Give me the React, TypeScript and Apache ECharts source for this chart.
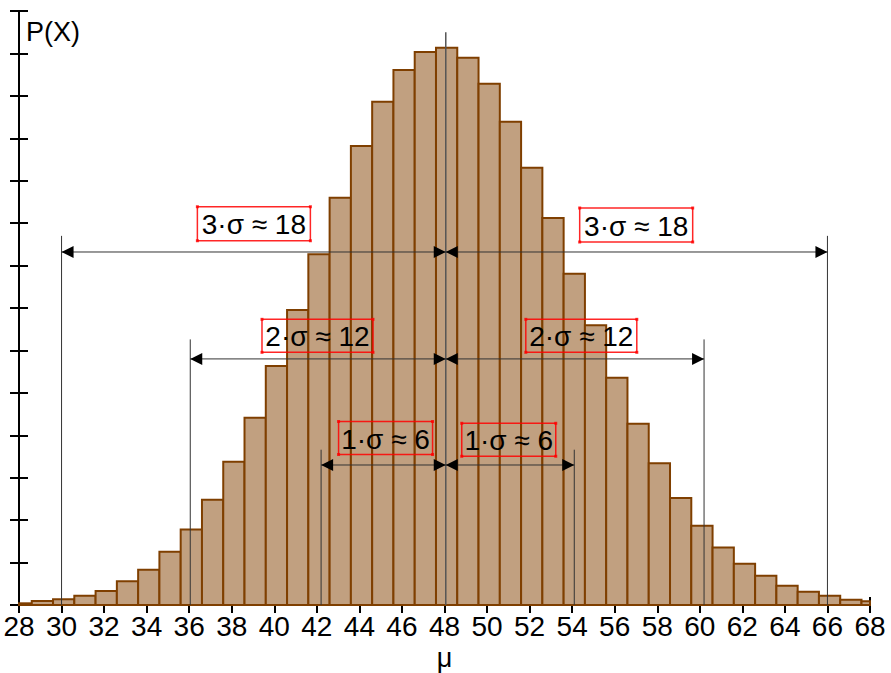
import React, { useEffect, useRef } from "react";
import * as echarts from "echarts";

// Histogram: outcome k and probability P(X = k)
const OUTCOMES = [28, 29, 30, 31, 32, 33, 34, 35, 36, 37, 38, 39, 40, 41, 42, 43, 44, 45, 46, 47, 48,
  49, 50, 51, 52, 53, 54, 55, 56, 57, 58, 59, 60, 61, 62, 63, 64, 65, 66, 67, 68];
const PROBS = [0.0002, 0.00047, 0.00067, 0.0011, 0.00165, 0.00279, 0.00416, 0.00628, 0.0089, 0.01241,
  0.01689, 0.02207, 0.02816, 0.03476, 0.04133, 0.048, 0.05409, 0.05931, 0.06304, 0.06517, 0.06567,
  0.0645, 0.06143, 0.05695, 0.05153, 0.0456, 0.03904, 0.03296, 0.02679, 0.02136, 0.0167, 0.01261,
  0.00934, 0.00678, 0.00487, 0.00345, 0.00227, 0.00157, 0.0011, 0.00062, 0.00044];

// Axis settings
const X_MIN = 28;
const X_MAX = 68;
const X_STEP = 2;
const Y_MIN = 0;
const Y_MAX = 0.07;
const Y_STEP = 0.005;
const X_NAME = "μ";
const Y_NAME = "P(X)";

// Sigma annotations (index 0 = 1σ, 1 = 2σ, 2 = 3σ)
const MU = 48.06;
const GUIDE_LEFT = [42.2, 36.05, 30.0];
const GUIDE_RIGHT = [54.1, 60.2, 66.0];
const GUIDE_TOP = [0.0183, 0.0313, 0.0435];
const ARROW_LEVEL = [0.0165, 0.029, 0.0416];
const MU_TOP = 0.0675;
const SIGMA_LABELS = ["1·σ ≈ 6", "2·σ ≈ 12", "3·σ ≈ 18"];
const LABEL_LEFT_X = [45.23, 42.03, 39.04];
const LABEL_RIGHT_X = [51.02, 54.43, 57.01];
const LABEL_LEFT_Y = [0.01968, 0.03172, 0.04493];
const LABEL_RIGHT_Y = [0.01947, 0.03172, 0.04478];

const FONT = '"Liberation Sans", Arial, Helvetica, sans-serif';

export default function App() {
  const ref = useRef<HTMLDivElement>(null);

  useEffect(() => {
    if (!ref.current) return;
    const chart = echarts.init(ref.current, null, { renderer: "svg" });

    const barData = OUTCOMES.map((k, i) => [k, PROBS[i]]);
    const BOX_W = [94, 111, 113];
    const BOX_H = [33, 33, 34];

    const renderBar = (params: any, api: any) => {
      const k = api.value(0);
      const v = api.value(1);
      const lo = Math.max(k - 0.4, X_MIN);
      const hi = Math.min(k + 0.6, X_MAX);
      const p1 = api.coord([lo, v]);
      const p2 = api.coord([hi, 0]);
      return {
        type: "rect",
        shape: { x: p1[0], y: p1[1], width: p2[0] - p1[0], height: p2[1] - p1[1] },
        style: { fill: "#c1a080", stroke: "#7f3f00", lineWidth: 2 },
      };
    };

    const arrowHead = (tip: number[], dir: number) => {
      const L = 12;
      const H = 6;
      return {
        type: "polygon",
        shape: {
          points: [
            [tip[0], tip[1]],
            [tip[0] - dir * L, tip[1] - H],
            [tip[0] - dir * L, tip[1] + H],
          ],
        },
        style: { fill: "#000" },
      };
    };

    const labelBox = (cx: number, cy: number, w: number, h: number, text: string) => {
      const x0 = cx - w / 2;
      const y0 = cy - h / 2;
      const corners = [
        [x0, y0],
        [x0 + w, y0],
        [x0, y0 + h],
        [x0 + w, y0 + h],
      ];
      return [
        {
          type: "rect",
          shape: { x: x0, y: y0, width: w, height: h },
          style: { fill: "none", stroke: "rgba(255,0,0,0.85)", lineWidth: 1.5 },
        },
        ...corners.map((c) => ({
          type: "rect",
          shape: { x: c[0] - 1.5, y: c[1] - 1.5, width: 3, height: 3 },
          style: { fill: "rgba(255,0,0,0.8)" },
        })),
        {
          type: "text",
          style: {
            text,
            x: cx,
            y: cy + 1,
            align: "center",
            verticalAlign: "middle",
            font: `28px ${FONT}`,
            fill: "#000",
          },
        },
      ];
    };

    const renderAnnot = (params: any, api: any) => {
      const i = params.dataIndex;
      const zero = api.coord([MU, 0]);
      const muTop = api.coord([MU, ARROW_LEVEL[i]]);
      const gl = api.coord([GUIDE_LEFT[i], GUIDE_TOP[i]]);
      const gr = api.coord([GUIDE_RIGHT[i], GUIDE_TOP[i]]);
      const al = api.coord([GUIDE_LEFT[i], ARROW_LEVEL[i]]);
      const ar = api.coord([GUIDE_RIGHT[i], ARROW_LEVEL[i]]);
      const lineStyle = { stroke: "#333", lineWidth: 1 };
      const children: any[] = [
        { type: "line", shape: { x1: gl[0], y1: gl[1], x2: gl[0], y2: zero[1] }, style: lineStyle },
        { type: "line", shape: { x1: gr[0], y1: gr[1], x2: gr[0], y2: zero[1] }, style: lineStyle },
        { type: "line", shape: { x1: al[0], y1: al[1], x2: ar[0], y2: ar[1] }, style: lineStyle },
        arrowHead(al, -1),
        arrowHead(muTop, 1),
        arrowHead(muTop, -1),
        arrowHead(ar, 1),
      ];
      const lc = api.coord([LABEL_LEFT_X[i], LABEL_LEFT_Y[i]]);
      const rc = api.coord([LABEL_RIGHT_X[i], LABEL_RIGHT_Y[i]]);
      children.push(...labelBox(lc[0], lc[1], BOX_W[i], BOX_H[i], SIGMA_LABELS[i]));
      children.push(...labelBox(rc[0], rc[1], BOX_W[i], BOX_H[i], SIGMA_LABELS[i]));
      if (i === 0) {
        const mt = api.coord([MU, MU_TOP]);
        children.unshift({
          type: "line",
          shape: { x1: mt[0], y1: mt[1], x2: mt[0], y2: zero[1] },
          style: { stroke: "#555", lineWidth: 1.5 },
        });
      }
      return { type: "group", children };
    };

    chart.setOption({
      animation: false,
      grid: {
        left: 19,
        right: 21,
        top: 11,
        bottom: 68,
        containLabel: false,
        outerBoundsMode: "none",
      },
      xAxis: [
        {
          type: "value",
          min: X_MIN,
          max: X_MAX,
          interval: X_STEP,
          axisLine: { show: true, lineStyle: { color: "#000", width: 2 } },
          axisTick: { show: true, length: 8, lineStyle: { color: "#000", width: 2 } },
          axisLabel: { show: true, fontSize: 28, fontFamily: FONT, color: "#000", margin: 7 },
          splitLine: { show: false },
        },
        {
          type: "value",
          min: X_MIN,
          max: X_MAX,
          position: "bottom",
          axisLine: { show: false },
          axisTick: {
            show: true,
            inside: true,
            length: 8,
            customValues: [X_MAX],
            lineStyle: { color: "#000", width: 2 },
          },
          axisLabel: { show: false },
          splitLine: { show: false },
        },
      ],
      yAxis: [
        {
          type: "value",
          min: Y_MIN,
          max: Y_MAX,
          interval: Y_STEP,
          axisLine: { show: true, lineStyle: { color: "#000", width: 2 } },
          axisTick: { show: true, length: 9, lineStyle: { color: "#000", width: 2 } },
          axisLabel: { show: false },
          splitLine: { show: false },
        },
        {
          type: "value",
          min: Y_MIN,
          max: Y_MAX,
          interval: Y_STEP,
          position: "left",
          axisLine: { show: false },
          axisTick: { show: true, inside: true, length: 9, lineStyle: { color: "#000", width: 2 } },
          axisLabel: { show: false },
          splitLine: { show: false },
        },
      ],
      graphic: [
        {
          type: "text",
          left: 26,
          top: 18,
          style: { text: Y_NAME, font: `27px ${FONT}`, fill: "#000" },
        },
        {
          type: "text",
          x: 444.5,
          y: 658,
          style: {
            text: X_NAME,
            font: `27px ${FONT}`,
            fill: "#000",
            align: "center",
            verticalAlign: "middle",
          },
        },
      ],
      series: [
        {
          type: "custom",
          xAxisIndex: 0,
          yAxisIndex: 0,
          renderItem: renderBar,
          data: barData,
          encode: { x: 0, y: 1 },
          clip: false,
          z: 2,
        },
        {
          type: "custom",
          xAxisIndex: 0,
          yAxisIndex: 0,
          renderItem: renderAnnot,
          data: [[MU, 0], [MU, 0], [MU, 0]],
          encode: { x: 0, y: 1 },
          clip: false,
          z: 3,
        },
      ],
    });

    return () => chart.dispose();
  }, []);

  return (
    <div
      ref={ref}
      style={{ position: "fixed", left: 0, top: 0, width: 891, height: 673, background: "#fff" }}
    />
  );
}
